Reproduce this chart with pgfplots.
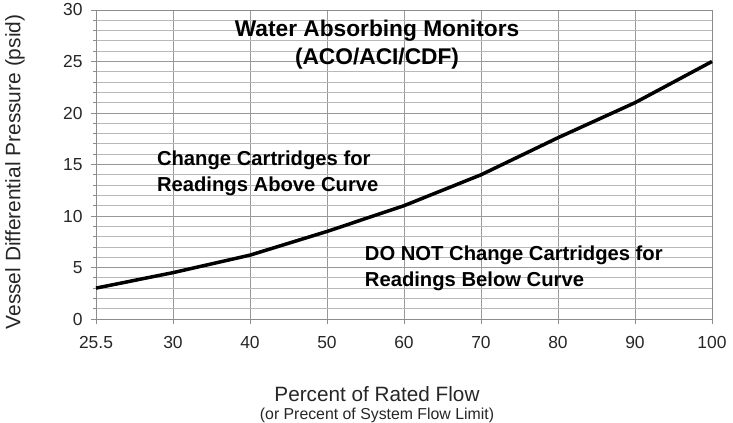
\documentclass[border=0pt]{standalone}
\usepackage{fontspec}
\setmainfont{Liberation Sans}
\usepackage{pgfplots}
\pgfplotsset{compat=1.18}
\begin{document}
\begin{tikzpicture}
\begin{axis}[
  name=ax, at={(0,0)}, anchor=south west,
  width=616bp, height=309bp, scale only axis,
  xmin=0, xmax=8, ymin=0, ymax=30,
  xtick={0,...,8}, xticklabels={25.5,30,40,50,60,70,80,90,100},
  ytick={0,5,...,30}, minor y tick num=4,
  grid=both,
  major grid style={draw=black!40, line width=0.8pt},
  minor grid style={draw=black!28, line width=0.8pt},
  axis line style={draw=black!45, line width=0.8pt},
  tick style={draw=black!45, line width=0.8pt},
  minor tick length=3bp, major tick length=5bp,
  tick align=outside,
  xtick pos=bottom, ytick pos=left,
  /pgf/number format/assume math mode=true,
  tick label style={font=\fontsize{17.5}{20}\selectfont, text=black!85},
  xticklabel style={yshift=-9bp},
  yticklabel style={xshift=-5bp},
  clip=false,
]
\addplot[black, line width=3.5pt, line join=round] coordinates {
  (0,3) (1,4.5) (2,6.2) (3,8.5) (4,11) (5,14) (6,17.6) (7,21) (8,25)
};
\node[inner sep=0pt, font=\fontsize{22.8}{26}\selectfont\bfseries] at (axis cs:3.65,28.0) {Water Absorbing Monitors};
\node[inner sep=0pt, font=\fontsize{22.8}{26}\selectfont\bfseries] at (axis cs:3.65,25.3) {(ACO/ACI/CDF)};
\node[inner sep=0pt, font=\fontsize{20.3}{24}\selectfont\bfseries, anchor=west] at (axis cs:0.79,15.4) {Change Cartridges for};
\node[inner sep=0pt, font=\fontsize{20.3}{24}\selectfont\bfseries, anchor=west] at (axis cs:0.79,12.9) {Readings Above Curve};
\node[inner sep=0pt, font=\fontsize{20.3}{24}\selectfont\bfseries, anchor=west] at (axis cs:3.49,6.2) {DO NOT Change Cartridges for};
\node[inner sep=0pt, font=\fontsize{20.3}{24}\selectfont\bfseries, anchor=west] at (axis cs:3.49,3.7) {Readings Below Curve};
\end{axis}
\node[inner sep=0pt, rotate=90, font=\fontsize{21}{24}\selectfont, text=black!85] at (-81bp,147bp) {Vessel Differential Pressure (psid)};
\node[inner sep=0pt, font=\fontsize{20.8}{24}\selectfont, text=black!85] at (281bp,-75bp) {Percent of Rated Flow};
\node[inner sep=0pt, font=\fontsize{15.9}{18}\selectfont, text=black!85] at (281bp,-96bp) {(or Precent of System Flow Limit)};
\pgfresetboundingbox
\path (-96bp,-104bp) rectangle (637bp,319bp);
\end{tikzpicture}
\end{document}
